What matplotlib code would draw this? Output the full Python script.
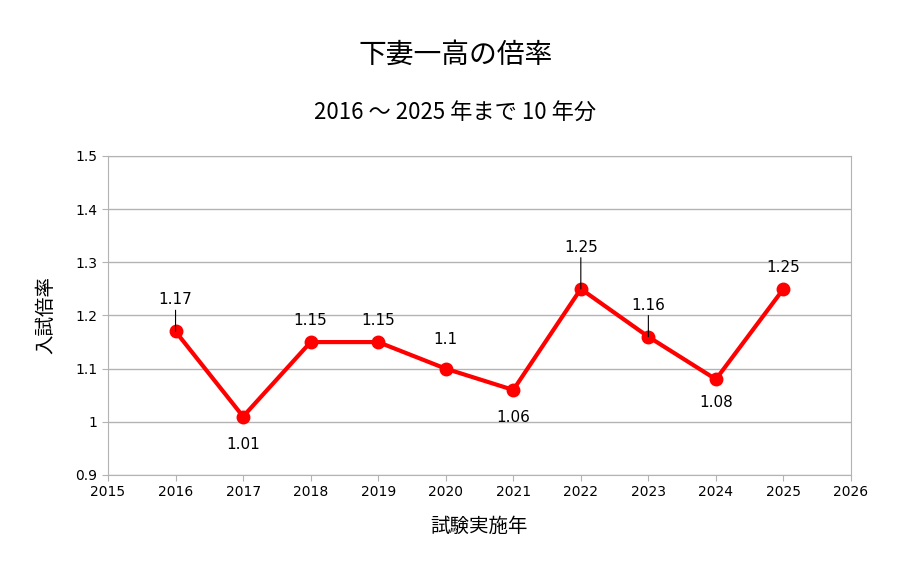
import matplotlib
matplotlib.use("Agg")
import matplotlib.pyplot as plt

years = [2016, 2017, 2018, 2019, 2020, 2021, 2022, 2023, 2024, 2025]
ratios = [1.17, 1.01, 1.15, 1.15, 1.10, 1.06, 1.25, 1.16, 1.08, 1.25]
labels = ["1.17", "1.01", "1.15", "1.15", "1.1", "1.06", "1.25", "1.16", "1.08", "1.25"]
# label offsets in pixels (dy), and whether a leader line is drawn
offsets = [24, -20, 14, 14, 22, -20, 34, 24, -16, 14]
leaders = [True, False, False, False, False, False, True, True, False, False]

cjk = "Noto Sans CJK JP"
fig = plt.figure(figsize=(9.11, 5.72), dpi=100)
ax = fig.add_axes([108/911, 1-475/572, (851-108)/911, (475-156)/572])
ax.plot(years, ratios, color="#ff0000", lw=3, marker="o", ms=9, zorder=3)
ax.set_xlim(2015, 2026)
ax.set_ylim(0.9, 1.5)
ax.set_xticks(range(2015, 2027))
ax.set_yticks([0.9, 1.0, 1.1, 1.2, 1.3, 1.4, 1.5])
ax.set_yticklabels(["0.9", "1", "1.1", "1.2", "1.3", "1.4", "1.5"])
ax.grid(axis="y", color="#b3b3b3", lw=1)
for s in ax.spines.values():
    s.set_color("#b3b3b3")
ax.tick_params(colors="#b3b3b3", labelcolor="black", labelsize=10, length=4, direction="out")
for x, y, t, dy, ld in zip(years, ratios, labels, offsets, leaders):
    va = "bottom" if dy > 0 else "top"
    ax.annotate(t, (x, y), xytext=(0, dy * 0.72), textcoords="offset points",
                ha="center", va=va, fontsize=11,
                arrowprops=dict(arrowstyle="-", color="black", lw=0.8, shrinkA=0, shrinkB=0) if ld else None)
ax.set_xlabel("試験実施年", fontfamily=cjk, fontsize=14, labelpad=12)
ax.set_ylabel("入試倍率", fontfamily=cjk, fontsize=14, labelpad=14)
fig.text(0.5, 1-55/572, "下妻一高の倍率", ha="center", va="center", fontfamily=cjk, fontsize=20)
fig.text(0.5, 1-113/572, "2016 ～ 2025 年まで 10 年分", ha="center", va="center", fontfamily=cjk, fontsize=16)
fig.savefig("out.png", dpi=100)
